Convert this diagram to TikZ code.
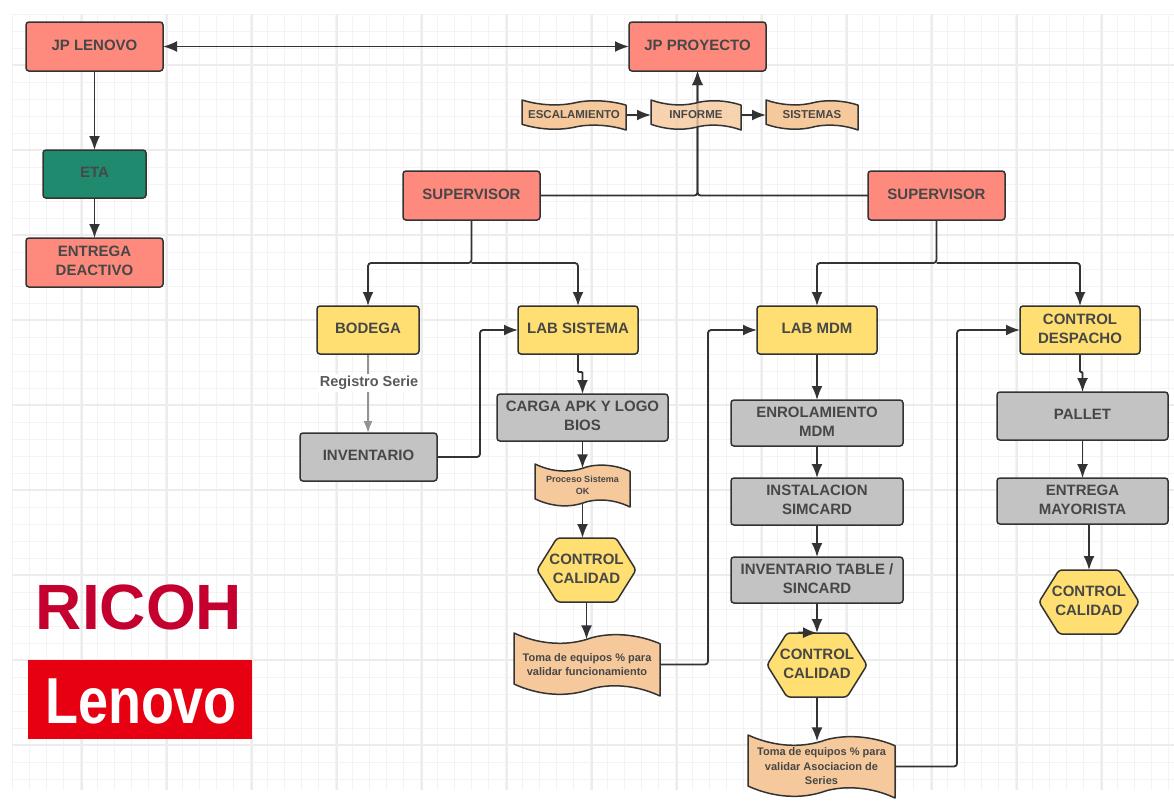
\documentclass[tikz,border=0pt]{standalone}
\usepackage{fontspec}
\setmainfont{Liberation Sans}
\usetikzlibrary{arrows.meta,backgrounds}
\definecolor{redfill}{HTML}{FE8A7E}
\definecolor{tealfill}{HTML}{1F8A6E}
\definecolor{yelfill}{HTML}{FFDF71}
\definecolor{greyfill}{HTML}{C3C3C3}
\definecolor{wavefill}{HTML}{F5C99B}
\definecolor{ink}{HTML}{474747}
\definecolor{edge}{HTML}{333333}
\definecolor{gridminor}{HTML}{F3F3F3}
\definecolor{gridmajor}{HTML}{ECECEC}
\definecolor{ricohred}{HTML}{C4002F}
\definecolor{lenovored}{HTML}{E60012}
\tikzset{
  bigtext/.style={font=\fontsize{15}{19}\selectfont\bfseries,text=ink,align=center,inner sep=0pt,outer sep=0pt},
  flowbox/.style={draw=edge,line width=1.5pt,rounded corners=3pt,inner sep=0pt,outer sep=0pt},
  redbox/.style={flowbox,fill=redfill},
  tealbox/.style={flowbox,fill=tealfill},
  yelbox/.style={flowbox,fill=yelfill},
  greybox/.style={flowbox,fill=greyfill},
  outline/.style={draw=edge,line width=1.5pt,line join=round},
  ghost/.style={inner sep=0pt,outer sep=0pt,text=ink,align=center,font=\bfseries},
  conn/.style={draw=edge,line width=1.8pt,rounded corners=3pt},
  arr/.style={conn,-{Latex[length=14pt,width=11pt]}},
  darr/.style={conn,{Latex[length=14pt,width=11pt]}-{Latex[length=14pt,width=11pt]}},
  jogarr/.style={arr,rounded corners=1pt},
  greyarr/.style={conn,draw=gray!85,-{Latex[length=12pt,width=9pt,gray!85]}},
}
% style, name, x1, y1, x2, y2, text
\newcommand{\flowrect}[7]{%
  \pgfmathsetmacro{\shapew}{#5-#3}\pgfmathsetmacro{\shapeh}{#6-#4}%
  \node[#1,minimum width=\shapew pt,minimum height=\shapeh pt] (#2) at ({(#3+#5)/2},{(#4+#6)/2}) {};
  \node[bigtext] (#2-text) at ({(#3+#5)/2},{(#4+#6)/2-1.5}) {#7};}
% options, name, x1, y1, x2, y2, font, text
\newcommand{\flowwave}[8][]{%
  \pgfmathsetmacro{\shapew}{#5-#3}\pgfmathsetmacro{\shapeh}{#6-#4}%
  \begin{scope}[shift={(#3,#4)},xscale=\shapew,yscale=\shapeh]
    \path[outline,fill=wavefill,#1] (0,0) .. controls (.15,.16) and (.33,.22) .. (.5,.10)
      .. controls (.6,.01) and (.8,-.03) .. (1,.17) -- (1,1)
      .. controls (.8,.78) and (.6,.82) .. (.5,.91)
      .. controls (.33,1.03) and (.15,.97) .. (0,.81) -- cycle;
  \end{scope}
  \pgfmathsetmacro{\shapei}{.8*\shapeh}%
  \node[ghost,font=#7,minimum width=\shapew pt,minimum height=\shapei pt] (#2) at ({(#3+#5)/2},{(#4+#6)/2}) {#8};}
% name, x1, y1, x2, y2, text
\newcommand{\flowhex}[6]{%
  \pgfmathsetmacro{\shapew}{#4-#2}\pgfmathsetmacro{\shapeh}{#5-#3}%
  \path[outline,fill=yelfill,rounded corners=3pt] (#2,{(#3+#5)/2}) -- ({#2+20},#3) -- ({#4-20},#3)
    -- (#4,{(#3+#5)/2}) -- ({#4-20},#5) -- ({#2+20},#5) -- cycle;
  \node[inner sep=0pt,outer sep=0pt,minimum width=\shapew pt,minimum height=\shapeh pt] (#1) at ({(#2+#4)/2},{(#3+#5)/2}) {};
  \node[bigtext] (#1-text) at ({(#2+#4)/2},{(#3+#5)/2-1.5}) {#6};}
\begin{document}
\begin{tikzpicture}[x=1pt,y=-1pt]
\useasboundingbox (0,0) rectangle (1174,801);

% top row
\flowrect{redbox}{lenovo}{26}{22}{163}{71}{JP LENOVO}
\flowrect{redbox}{proy}{629}{22}{766}{71}{JP PROYECTO}
\flowrect{tealbox}{eta}{43}{150}{146}{198}{ETA}
\flowrect{redbox}{deact}{26}{238}{163}{287}{ENTREGA\\DEACTIVO}
\flowwave{esc}{522}{100}{626}{130}{\fontsize{11.5}{13}\selectfont\bfseries}{ESCALAMIENTO}
\flowwave[fill opacity=.8]{inf}{651}{100}{741}{130}{\fontsize{11.5}{13}\selectfont\bfseries}{INFORME}
\flowwave{sis}{766}{100}{858}{130}{\fontsize{11.5}{13}\selectfont\bfseries}{SISTEMAS}
\flowrect{redbox}{supl}{403}{171}{540}{220}{SUPERVISOR}
\flowrect{redbox}{supr}{868}{171}{1005}{220}{SUPERVISOR}

% column heads
\flowrect{yelbox}{bod}{317}{306}{419}{354}{BODEGA}
\flowrect{yelbox}{lab}{518}{306}{638}{354}{LAB SISTEMA}
\flowrect{yelbox}{mdm}{757}{306}{877}{354}{LAB MDM}
\flowrect{yelbox}{desp}{1020}{306}{1140}{354}{CONTROL\\DESPACHO}

% bodega
\flowrect{greybox}{inv}{300}{433}{437}{481}{INVENTARIO}
\node[bigtext,fill=white,inner sep=2pt,font=\fontsize{14.5}{16}\selectfont\bfseries,text=ink!90] (reg) at (369,383) {Registro Serie};

% lab sistema
\flowrect{greybox}{carga}{497}{394}{668}{441}{CARGA APK Y LOGO\\BIOS}
\flowwave{proc}{535}{464}{630}{507}{\fontsize{9}{12}\selectfont\bfseries}{Proceso Sistema\\OK}
\flowhex{hexa}{537}{538}{636}{602}{CONTROL\\CALIDAD}
\flowwave{toma}{514}{633}{660}{696}{\fontsize{11}{14}\selectfont\bfseries}{Toma de equipos \% para\\validar funcionamiento}

% lab mdm
\flowrect{greybox}{enr}{731}{400}{903}{446}{ENROLAMIENTO\\MDM}
\flowrect{greybox}{ins}{731}{478}{903}{525}{INSTALACION\\SIMCARD}
\flowrect{greybox}{tab}{731}{557}{903}{603}{INVENTARIO TABLE /\\SINCARD}
\flowhex{hexb}{767}{633}{867}{697}{CONTROL\\CALIDAD}
\flowwave{tomb}{748}{735}{895}{798}{\fontsize{11}{14.5}\selectfont\bfseries}{Toma de equipos \% para\\validar Asociacion de\\Series}

% despacho
\flowrect{greybox}{pal}{997}{392}{1168}{440}{PALLET}
\flowrect{greybox}{may}{997}{478}{1168}{524}{ENTREGA\\MAYORISTA}
\flowhex{hexc}{1039}{570}{1139}{634}{CONTROL\\CALIDAD}

% logos
\node[inner sep=0pt,text=ricohred,font=\fontsize{64}{64}\selectfont\bfseries] (ricoh) at (139,607) {RICOH};
\node[fill=lenovored,inner sep=0pt,minimum width=224pt,minimum height=79pt] (lenbox) at (140,699.5) {};
\node[inner sep=0pt,text=white,font=\fontsize{65}{65}\selectfont\bfseries] (lentext) at (141,701) {\scalebox{.83}[1]{Lenovo}};

\coordinate (jl) at (471.5,263);
\coordinate (jr) at (936.5,263);
\coordinate (jog1) at (578,372);
\coordinate (jog2) at (1080,372);
\coordinate (inva) at (480,457);
\coordinate (toma1) at (708,664.5);
\coordinate (tomb1) at (957,766.5);
\coordinate (sidetip) at (798,632.5);

\begin{scope}[on background layer]
  \fill[white] (0,0) rectangle (1174,801);
  \foreach \gx in {12,29,...,1174} \draw[gridminor,line width=1pt] (\gx,14) -- (\gx,790);
  \foreach \gy in {14,31,...,790} \draw[gridminor,line width=1pt] (12,\gy) -- (1174,\gy);
  \foreach \gx in {82,167,...,1174} \draw[gridmajor,line width=1.2pt] (\gx,14) -- (\gx,790);
  \foreach \gy in {65,150,...,790} \draw[gridmajor,line width=1.2pt] (12,\gy) -- (1174,\gy);

  \draw[darr] (lenovo) -- (proy);
  \draw[arr] (lenovo) -- (lenovo |- eta.north);
  \draw[arr] (lenovo.south |- eta.south) -- (lenovo.south |- deact.north);
  \draw[arr] (esc) -- (inf);
  \draw[arr] (inf) -- (sis);
  \draw[arr] (supl.east) -| (proy.south);
  \draw[arr] (supr.west) -| (proy.south);
  \draw[arr] (supl.south) -- (jl) -| (bod.north);
  \draw[arr] (jl) -| (lab.north);
  \draw[arr] (supr.south) -- (jr) -| (mdm.north);
  \draw[arr] (jr) -| (desp.north);
  \draw[greyarr] (bod.south) -- (inv.north -| bod.south);
  \draw[arr] (inv.east) -- (inva) |- (lab.west);
  \draw[jogarr] (lab.south) -- (jog1) -| (carga.north);
  \draw[arr] (carga.south) -- (proc.north);
  \draw[arr] (proc.south) -- (proc.south |- hexa.north);
  \draw[arr] (hexa.south) -- (hexa.south |- toma.north);
  \draw[arr] (toma.east) -- (toma1) |- (mdm.west);
  \draw[arr] (mdm.south) -- (enr.north);
  \draw[arr] (enr.south) -- (ins.north);
  \draw[arr] (ins.south) -- (tab.north);
  \draw[arr] (tab.south) -- (hexb.north);
  \draw[arr] (hexb.south) -- (hexb.south |- tomb.north);
  \draw[arr] (tomb.east) -- (tomb1) |- (desp.west);
  \draw[jogarr] (desp.south) -- (jog2) -| (pal.north);
  \draw[arr] (pal.south) -- (may.north);
  \draw[arr] (hexc.north |- may.south) -- (hexc.north);
\end{scope}
\draw[arr] (sidetip) -- (hexb.north);
\end{tikzpicture}
\end{document}
